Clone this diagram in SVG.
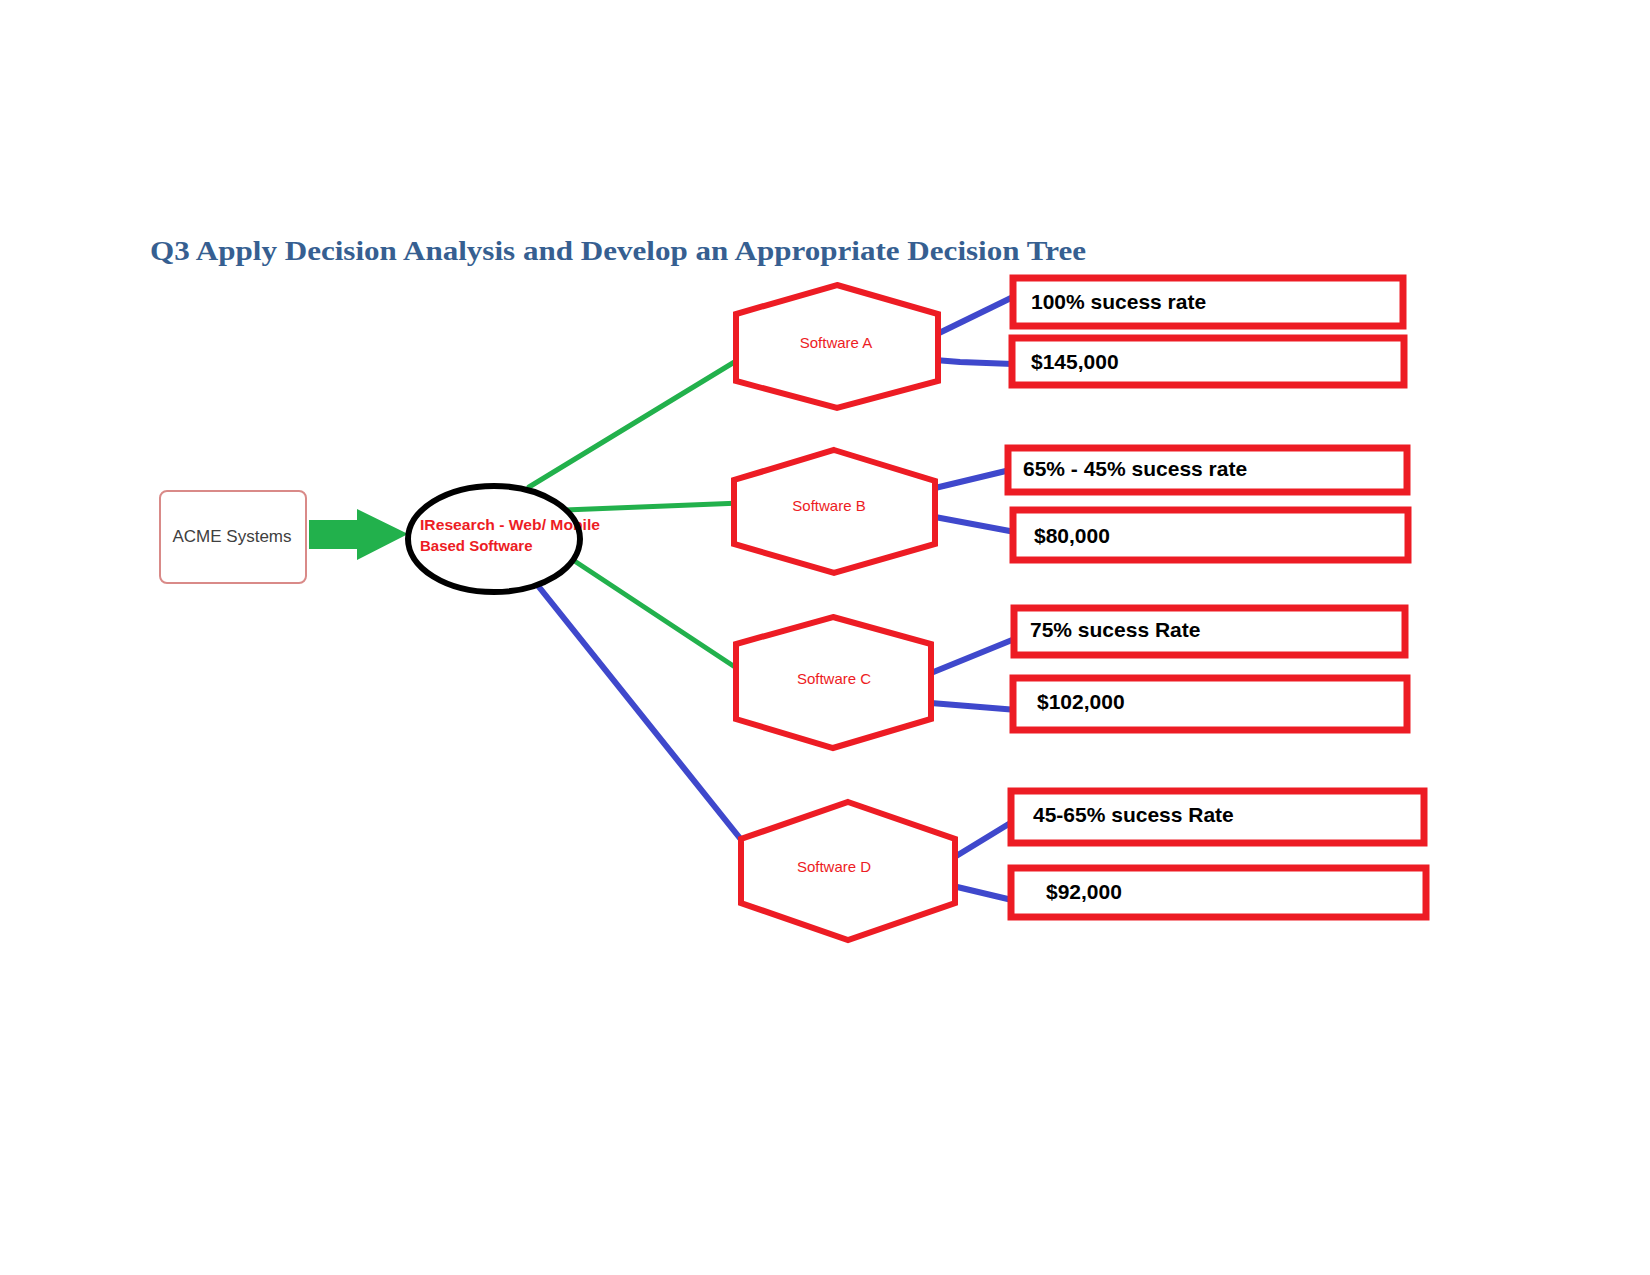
<svg xmlns="http://www.w3.org/2000/svg" width="1650" height="1275" viewBox="0 0 1650 1275">
<style>
.hex{fill:#fff;stroke:#ed1c24;stroke-width:6;stroke-linejoin:miter}
.hl{font-family:"Liberation Sans",Arial,sans-serif;font-size:15px;fill:#ed1c24;text-anchor:middle}
.box{fill:#fff;stroke:#ed1c24;stroke-width:7}
.bt{font-family:"Liberation Sans",Arial,sans-serif;font-size:21px;font-weight:bold;fill:#000}
.g{stroke:#22b14c;stroke-width:5;fill:none;stroke-linecap:round}
.b{stroke:#3f48cc;stroke-width:6;fill:none;stroke-linecap:round}
</style>
<rect width="1650" height="1275" fill="#fff"/>
<text id="title" x="150" y="260" font-family="'Liberation Serif','Times New Roman',serif" font-size="27" font-weight="bold" fill="#365f91" textLength="936" lengthAdjust="spacingAndGlyphs">Q3 Apply Decision Analysis and Develop an Appropriate Decision Tree</text>
<g id="connectors">
<line class="g" x1="529" y1="487" x2="741" y2="358"/>
<line class="g" x1="565" y1="510" x2="741" y2="503"/>
<line class="g" x1="573" y1="560" x2="741" y2="671"/>
<line class="b" x1="535" y1="582" x2="743" y2="842"/>
<line class="b" x1="935" y1="335" x2="1013" y2="297"/>
<polyline class="b" points="935,360 960,362 1013,364"/>
<line class="b" x1="935" y1="488" x2="1010" y2="470"/>
<line class="b" x1="935" y1="517" x2="1015" y2="532"/>
<line class="b" x1="931" y1="673" x2="1017" y2="638"/>
<line class="b" x1="931" y1="703" x2="1017" y2="710"/>
<line class="b" x1="953" y1="858" x2="1012" y2="822"/>
<line class="b" x1="953" y1="886" x2="1012" y2="900"/>
<polygon id="arrow" points="309,520 357,520 357,509 408,534 357,560 357,549 309,549" fill="#22b14c"/>
</g>
<g id="acme">
<rect x="160" y="491" width="146" height="92" rx="7" fill="#fff" stroke="#d98a88" stroke-width="2"/>
<text x="232" y="542" font-family="'Liberation Sans',Arial,sans-serif" font-size="17" fill="#404040" text-anchor="middle">ACME Systems</text>
</g>
<g id="research">
<ellipse cx="494" cy="539" rx="86" ry="53" fill="#fff"/>
<text font-family="'Liberation Sans',Arial,sans-serif" font-size="15" font-weight="bold" fill="#ed1c24"><tspan x="420" y="530" textLength="180" lengthAdjust="spacingAndGlyphs">IResearch - Web/ Mobile</tspan><tspan x="420" y="551">Based Software</tspan></text>
<ellipse cx="494" cy="539" rx="86" ry="53" fill="none" stroke="#000" stroke-width="6"/>
</g>
<g id="softwareA">
<polygon class="hex" points="837,285 938,314 938,381 837,408 736,381 736,314"/>
<text class="hl" x="836" y="348">Software A</text>
</g>
<g id="softwareB">
<polygon class="hex" points="834,450 935,481 935,544 834,573 734,544 734,480"/>
<text class="hl" x="829" y="511">Software B</text>
</g>
<g id="softwareC">
<polygon class="hex" points="833,617 931,644 931,719 833,748 736,719 736,644"/>
<text class="hl" x="834" y="684">Software C</text>
</g>
<g id="softwareD">
<polygon class="hex" points="848,802 955,839 955,903 848,940 741,903 741,839"/>
<text class="hl" x="834" y="872">Software D</text>
</g>
<g id="a1"><rect class="box" x="1013" y="278" width="390" height="48"/><text class="bt" x="1031" y="309">100% sucess rate</text></g>
<g id="a2"><rect class="box" x="1012" y="338" width="392" height="47"/><text class="bt" x="1031" y="369">$145,000</text></g>
<g id="b1"><rect class="box" x="1008" y="448" width="399" height="44"/><text class="bt" x="1023" y="476">65% - 45% sucess rate</text></g>
<g id="b2"><rect class="box" x="1013" y="510" width="395" height="50"/><text class="bt" x="1034" y="543">$80,000</text></g>
<g id="c1"><rect class="box" x="1014" y="608" width="391" height="47"/><text class="bt" x="1030" y="637">75% sucess Rate</text></g>
<g id="c2"><rect class="box" x="1013" y="678" width="394" height="52"/><text class="bt" x="1037" y="709">$102,000</text></g>
<g id="d1"><rect class="box" x="1011" y="791" width="413" height="52"/><text class="bt" x="1033" y="822">45-65% sucess Rate</text></g>
<g id="d2"><rect class="box" x="1011" y="868" width="415" height="49"/><text class="bt" x="1046" y="899">$92,000</text></g>
</svg>
